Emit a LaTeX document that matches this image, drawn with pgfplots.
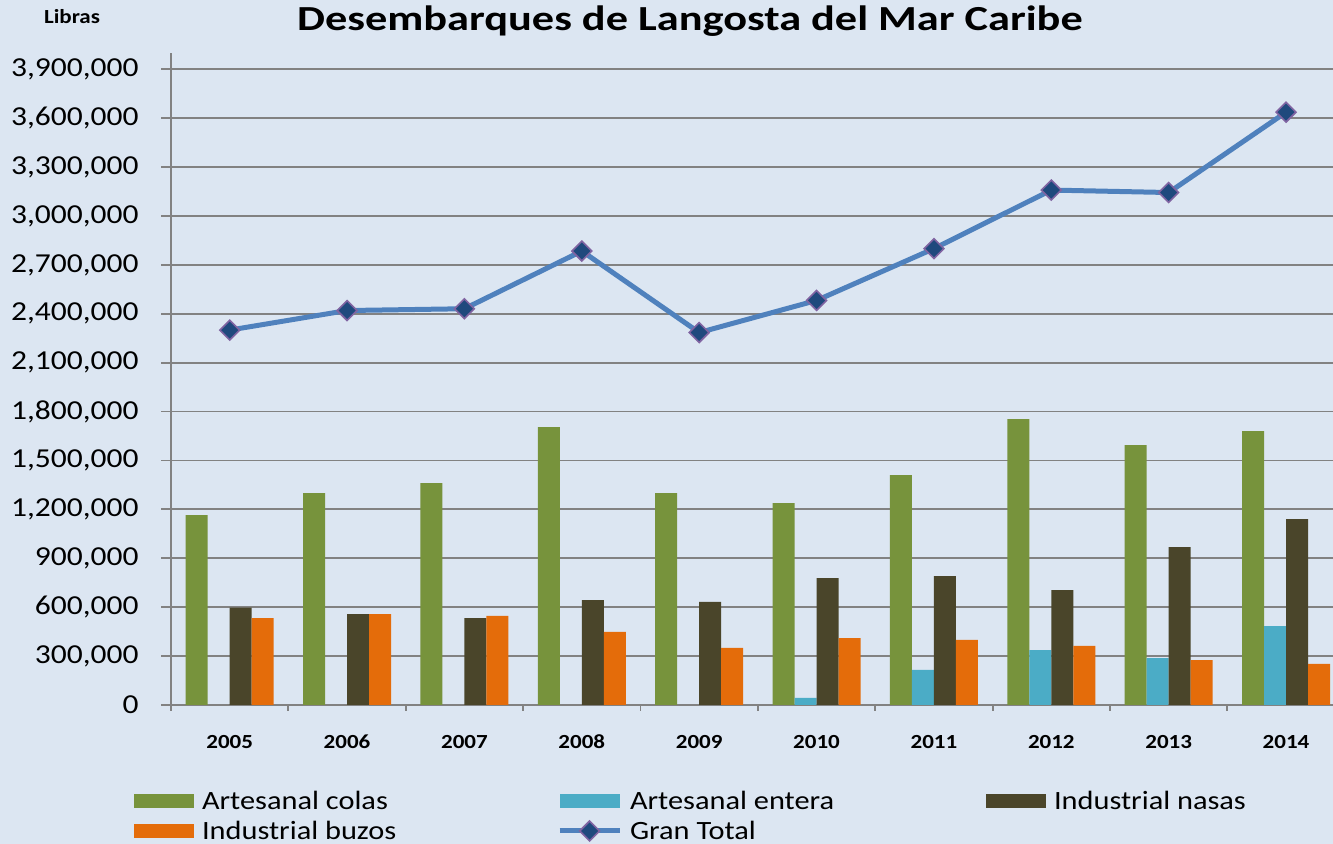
\documentclass[border=0pt]{standalone}
\usepackage{fontspec}
\setmainfont{Carlito}[FakeStretch=1.15]
\newfontfamily\titlefont{Carlito}[FakeStretch=1.26]
\usepackage{pgfplots}
\pgfplotsset{compat=1.18}
\definecolor{bg}{RGB}{220,230,242}
\definecolor{cgreen}{RGB}{119,147,60}
\definecolor{cteal}{RGB}{75,172,198}
\definecolor{cbrown}{RGB}{74,69,42}
\definecolor{corange}{RGB}{228,108,10}
\definecolor{lineblue}{RGB}{79,129,189}
\definecolor{markblue}{RGB}{31,73,125}
\definecolor{markpurple}{RGB}{128,100,162}
\definecolor{gridgray}{RGB}{130,130,130}
\begin{document}
\begin{tikzpicture}
\useasboundingbox (0,0) rectangle (666.5pt,422pt);
\fill[bg] (0,0) rectangle (666.5pt,422pt);
\begin{axis}[
  at={(85.5pt,69.5pt)}, anchor=south west,
  scale only axis, width=581pt, height=326pt,
  xmin=-0.5, xmax=9.4, ymin=0, ymax=4000000,
  enlargelimits=false,
  axis lines*=left,
  axis line style={draw=gridgray, line width=0.9pt},
  xtick={0,...,9},
  xticklabels={2005,2006,2007,2008,2009,2010,2011,2012,2013,2014},
  minor xtick={-0.5,0.5,...,9.5},
  major x tick style={draw=none},
  minor x tick style={draw=gridgray, line width=0.9pt},
  minor tick length=3pt,
  ytick={0,300000,...,3900000},
  major tick length=5pt,
  tick align=outside,
  y tick style={draw=gridgray, line width=0.9pt},
  ymajorgrids,
  major grid style={draw=gridgray, line width=0.9pt},
  scaled y ticks=false,
  /pgf/number format/fixed,
  /pgf/number format/precision=0,
  /pgf/number format/1000 sep={,},
  /pgf/number format/assume math mode=true,
  yticklabel style={anchor=east, inner sep=0pt, xshift=-11pt, font=\fontsize{13.7}{14}\selectfont},
  xticklabel style={anchor=base, inner sep=0pt, yshift=-17pt, font=\bfseries\fontsize{10}{12}\selectfont},
  title={Desembarques de Langosta del Mar Caribe},
  title style={at={(axis description cs:0.4466,1.0163)}, anchor=base, inner sep=0pt, font=\titlefont\bfseries\fontsize{17.6}{20}\selectfont},
  ylabel={Libras},
  every axis y label/.style={at={(axis description cs:-0.0852,1.0445)}, anchor=base, inner sep=0pt, font=\bfseries\fontsize{10}{11}\selectfont},
  legend columns=3,
  legend cell align=left,
  legend style={at={(axis description cs:-0.0318,-0.1288)}, anchor=north west, draw=none, fill=none, inner sep=0pt, outer sep=0pt,
    row sep=3pt, column sep=0pt,
    /tikz/every odd column/.append style={column sep=4pt},
    nodes={inner sep=0pt, text height=10.5pt, text depth=1.5pt, font=\fontsize{13.2}{15}\selectfont}},
]
\addplot[ybar, bar width=0.1874, bar shift=-0.2811, fill=cgreen, draw=none,
  legend image code/.code={\fill[cgreen] (0pt,-3.5pt) rectangle (30pt,3.5pt);}]
  coordinates {(0,1165000) (1,1300000) (2,1361000) (3,1705000) (4,1300000) (5,1239000) (6,1410000) (7,1754000) (8,1594000) (9,1680000)};
\addlegendentry{\makebox[177.5pt][l]{Artesanal colas}}
\addplot[ybar, bar width=0.1874, bar shift=-0.0937, fill=cteal, draw=none,
  legend image code/.code={\fill[cteal] (0pt,-3.5pt) rectangle (30pt,3.5pt);}]
  coordinates {(5,43000) (6,215000) (7,337000) (8,288000) (9,484000)};
\addlegendentry{\makebox[178pt][l]{Artesanal entera}}
\addplot[ybar, bar width=0.1874, bar shift=0.0937, fill=cbrown, draw=none,
  legend image code/.code={\fill[cbrown] (0pt,-3.5pt) rectangle (30pt,3.5pt);}]
  coordinates {(0,597000) (1,558000) (2,533000) (3,644000) (4,632000) (5,779000) (6,791000) (7,705000) (8,969000) (9,1141000)};
\addlegendentry{Industrial nasas}
\addplot[ybar, bar width=0.1874, bar shift=0.2811, fill=corange, draw=none,
  legend image code/.code={\fill[corange] (0pt,-3.5pt) rectangle (30pt,3.5pt);}]
  coordinates {(0,533000) (1,558000) (2,546000) (3,448000) (4,350000) (5,411000) (6,399000) (7,362000) (8,276000) (9,252000)};
\addlegendentry{\makebox[177.5pt][l]{Industrial buzos}}
\addplot[sharp plot, draw=lineblue, line width=2.5pt, mark=square*, mark size=3.5pt,
  mark options={rotate=45, fill=markblue, draw=markpurple, line width=0.8pt},
  legend image code/.code={\draw[draw=lineblue, line width=2.5pt, mark=square*, mark size=3.5pt, mark options={rotate=45, fill=markblue, draw=markpurple, line width=0.8pt}, mark repeat=2, mark phase=2] plot coordinates {(0pt,0pt) (15pt,0pt) (30pt,0pt)};}]
  coordinates {(0,2300000) (1,2420000) (2,2431000) (3,2785000) (4,2285000) (5,2482000) (6,2800000) (7,3159000) (8,3144000) (9,3637000)};
\addlegendentry{\makebox[178pt][l]{Gran Total}}
\end{axis}
\end{tikzpicture}
\end{document}
